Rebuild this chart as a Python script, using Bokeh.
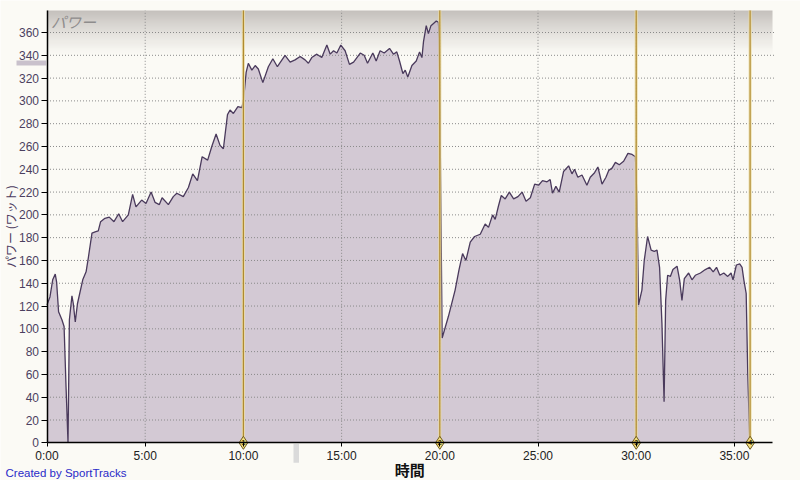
import numpy as np
from bokeh.plotting import figure
from bokeh.models import FixedTicker, Label, LinearAxis
from bokeh.embed import file_html
from bokeh.resources import INLINE
from bokeh.core.properties import value

# ---------------- data ----------------
time_min = [
    0.00, 0.15, 0.29, 0.42, 0.49, 0.59, 0.76, 0.87, 0.97, 1.07,
    1.14, 1.27, 1.34, 1.44, 1.55, 1.82, 1.99, 2.11, 2.29, 2.45,
    2.61, 2.73, 2.95, 3.17, 3.41, 3.65, 3.85, 4.14, 4.36, 4.53,
    4.82, 5.04, 5.30, 5.50, 5.72, 5.86, 6.18, 6.43, 6.61, 6.94,
    7.20, 7.42, 7.66, 7.90, 8.18, 8.39, 8.61, 8.81, 8.98, 9.19,
    9.32, 9.49, 9.72, 9.92, 10.00, 10.14, 10.25, 10.43, 10.60, 10.76,
    10.99, 11.27, 11.50, 11.73, 12.12, 12.38, 12.63, 12.89, 13.14, 13.31,
    13.48, 13.74, 13.99, 14.25, 14.42, 14.59, 14.76, 14.96, 15.18, 15.40,
    15.61, 15.78, 15.95, 16.15, 16.32, 16.59, 16.76, 16.96, 17.17, 17.44,
    17.64, 17.81, 17.95, 18.12, 18.24, 18.37, 18.58, 18.80, 18.97, 19.09,
    19.17, 19.31, 19.42, 19.55, 19.68, 19.82, 19.93, 19.97, 20.12,
    20.44, 20.78, 20.98, 21.16, 21.33, 21.55, 21.77, 22.06, 22.31, 22.48,
    22.69, 22.82, 22.99, 23.13, 23.33, 23.54, 23.76, 23.98, 24.19, 24.39,
    24.61, 24.83, 25.03, 25.23, 25.46, 25.62, 25.74, 25.91, 26.08, 26.30,
    26.56, 26.73, 26.86, 27.03, 27.24, 27.49, 27.66, 27.88, 28.05, 28.26,
    28.46, 28.60, 28.77, 28.94, 29.14, 29.36, 29.58, 29.79, 29.96, 30.04,
    30.12, 30.29, 30.41, 30.58, 30.76, 30.92, 31.06, 31.19, 31.31, 31.42,
    31.50, 31.60, 31.74, 31.87, 32.08, 32.21, 32.33, 32.45, 32.67, 32.84,
    33.01, 33.27, 33.52, 33.74, 33.92, 34.09, 34.26, 34.46, 34.66, 34.83,
    34.93, 35.10, 35.27, 35.39, 35.48, 35.60, 35.68, 35.78,
]
power_w = [
    121, 128, 143, 148, 141, 115, 108, 102, 49, 0,
    108, 129, 122, 106, 122, 143, 150, 163, 184, 185,
    186, 194, 197, 198, 194, 201, 194, 200, 218, 207,
    213, 210, 220, 211, 209, 215, 209, 216, 219, 216,
    224, 236, 230, 251, 248, 260, 271, 261, 258, 288,
    292, 289, 295, 294, 300, 325, 333, 327, 331, 328,
    316, 330, 337, 330, 340, 334, 336, 339, 336, 333,
    338, 341, 338, 349, 341, 344, 342, 349, 344, 332,
    334, 338, 342, 340, 333, 342, 335, 344, 342, 346,
    341, 343, 335, 324, 327, 321, 331, 335, 343, 338,
    352, 366, 359, 366, 368, 370, 369, 355, 92,
    111, 134, 152, 166, 160, 176, 181, 183, 192, 189,
    200, 196, 208, 217, 214, 220, 214, 216, 220, 212,
    215, 227, 226, 230, 229, 231, 219, 225, 220, 238,
    243, 236, 240, 233, 235, 226, 233, 237, 242, 227,
    233, 239, 241, 246, 244, 247, 254, 253, 251, 213,
    121, 134, 160, 181, 169, 168, 169, 154, 105, 36,
    125, 147, 146, 152, 155, 143, 125, 144, 149, 143,
    147, 149, 152, 154, 150, 154, 147, 149, 146, 149,
    143, 156, 157, 154, 143, 131, 61, 3,
]

x_ticks = [0, 5, 10, 15, 20, 25, 30, 35]
x_tick_labels = ["0:00", "5:00", "10:00", "15:00", "20:00", "25:00", "30:00", "35:00"]
y_ticks = list(range(0, 361, 20))

lap_times = [10.0, 20.0, 30.0, 35.8]
lap_labels = ["1", "2", "3", "4"]

avg_marker_power = 333.2
cursor_time = 12.69

# ---------------- layout ----------------
W, H = 800, 480
PX_MIN = 19.64          # pixels per minute
PX_W = 1.1397           # pixels per watt
X0_PX, Y0_PX = 46.5, 442.3   # where (0:00, 0 W) sits on the canvas
X_MAX = 36.94           # right end of the plotting area (minutes)
P_TOP = 379.3           # top of the plotting area (watts)
BG = "#FBFAF5"

x_range = (-X0_PX / PX_MIN, (W - X0_PX) / PX_MIN)
y_range = (-(H - Y0_PX) / PX_W, Y0_PX / PX_W)

p = figure(width=W, height=H, x_range=x_range, y_range=y_range,
           x_axis_type=None, y_axis_type=None,
           output_backend="svg", toolbar_location=None,
           min_border=0, min_border_left=0, min_border_right=0,
           min_border_top=0, min_border_bottom=0,
           background_fill_color=BG, border_fill_color=BG, outline_line_color=None)
p.grid.visible = False

# top gradient band of the plotting area
g_bottom = 340.0
n = 48
cream = np.array([251, 250, 245], dtype=float)
gray = np.array([196, 192, 188], dtype=float)
img = np.empty((n, 1), dtype=np.uint32)
view = img.view(dtype=np.uint8).reshape((n, 1, 4))
for i in range(n):
    f = (i / (n - 1)) ** 1.2
    c = cream + (gray - cream) * f
    view[i, 0, 0] = int(c[0]); view[i, 0, 1] = int(c[1]); view[i, 0, 2] = int(c[2]); view[i, 0, 3] = 255
p.image_rgba(image=[img], x=0, y=g_bottom, dw=X_MAX, dh=P_TOP - g_bottom)

# area fill
p.varea(x=time_min, y1=0, y2=power_w, fill_color="#C4B5C8", fill_alpha=0.72)

# dotted grid
grid_style = dict(line_color="#8A8A8A", line_dash="1 2", line_width=1)
gx = x_ticks[1:]
p.segment(x0=gx, y0=[0] * len(gx), x1=gx, y1=[P_TOP] * len(gx), **grid_style)
gy = y_ticks[1:]
p.segment(x0=[0] * len(gy), y0=gy, x1=[X_MAX + 3 / PX_MIN] * len(gy), y1=gy, **grid_style)

# power line
p.line(time_min, power_w, line_color="#4A3A5C", line_width=1.3)

# lap lines
p.segment(x0=lap_times, y0=[0] * 4, x1=lap_times, y1=[P_TOP] * 4,
          line_color="#EBDCA2", line_width=3.2, line_alpha=0.8)
p.segment(x0=lap_times, y0=[0] * 4, x1=lap_times, y1=[P_TOP] * 4,
          line_color="#B08A30", line_width=1.2)

# small grey markers outside the plotting area
p.quad(left=-30.5 / PX_MIN, right=-0.8 / PX_MIN,
       bottom=avg_marker_power - 2.2, top=avg_marker_power + 2.2,
       fill_color="#C9C1CC", line_color=None)
p.quad(left=cursor_time - 0.14, right=cursor_time + 0.14,
       bottom=-17.5, top=-0.9, fill_color="#DADADA", line_color=None)

# axes, fixed at the data origin
xaxis = LinearAxis(fixed_location=0, bounds=(0, X_MAX), ticker=FixedTicker(ticks=x_ticks),
                   major_label_overrides=dict(zip(x_ticks, x_tick_labels)))
yaxis = LinearAxis(fixed_location=0, bounds=(0, P_TOP), ticker=FixedTicker(ticks=y_ticks))
p.add_layout(xaxis, "below")
p.add_layout(yaxis, "left")
for ax in (xaxis, yaxis):
    ax.axis_line_color = "black"
    ax.axis_line_width = 1.5
    ax.major_tick_line_color = "black"
    ax.major_tick_in = 0
    ax.minor_tick_out = 0
    ax.minor_tick_in = 0
    ax.major_label_text_font = "Liberation Sans"
    ax.major_label_text_font_size = "12px"
yaxis.major_tick_out = 6
xaxis.major_tick_out = 4
yaxis.major_label_standoff = 2
xaxis.major_label_standoff = 2
yaxis.major_label_text_color = "#4B3F5F"
xaxis.major_label_text_color = "#222222"

# lap diamonds with numbers
p.scatter(x=lap_times, y=[0] * 4, marker="diamond", size=13,
          fill_color="#F3DF7E", line_color="#6E5A1C", line_width=1)
p.text(x=lap_times, y=[0] * 4, text=lap_labels, text_align="center", text_baseline="middle",
       text_font=value("Liberation Sans"), text_font_size="7px", text_font_style="bold",
       text_color="#3A3000")

# axis titles and other texts
p.add_layout(Label(x=X_MAX / 2, y=1, y_units="screen", text="時間",
                   text_align="center", text_baseline="bottom",
                   text_font="Noto Sans CJK JP", text_font_size="15px",
                   text_font_style="bold", text_color="#111111"))
p.add_layout(Label(x=-37 / PX_MIN, y=(Y0_PX - 226) / PX_W, text="パワー (ワット)",
                   angle=np.pi / 2, text_align="center", text_baseline="middle",
                   text_font="Noto Sans CJK JP", text_font_size="12px",
                   text_color="#4B3A5E"))
p.add_layout(Label(x=0, y=P_TOP, x_offset=4, text="パワー",
                   text_align="left", text_baseline="top",
                   text_font="Noto Sans CJK JP", text_font_size="15px",
                   text_font_style="italic", text_color="#8E8C8C"))
p.add_layout(Label(x=5, y=2, x_units="screen", y_units="screen",
                   text="Created by SportTracks", text_align="left", text_baseline="bottom",
                   text_font="Liberation Sans", text_font_size="11.5px",
                   text_color="#2A2AC8"))

open("out.html", "w").write(file_html(p, INLINE))
